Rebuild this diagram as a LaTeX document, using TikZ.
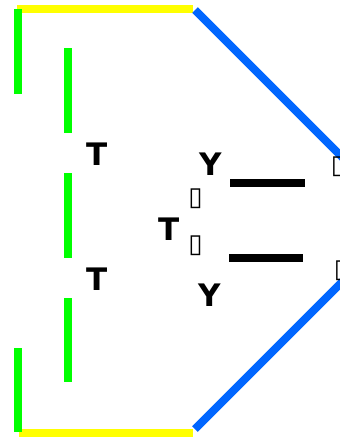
\documentclass[tikz,border=0pt]{standalone}
\usepackage{fontspec}
\setmainfont{DejaVu Sans}
\usepackage{tikz}

\definecolor{wallgreen}{RGB}{0,255,0}
\definecolor{wallyellow}{RGB}{255,255,0}
\definecolor{wallblue}{RGB}{0,102,255}

\begin{document}
\begin{tikzpicture}[x=1pt, y=-1pt,
	lbl/.style={font=\fontsize{31}{36}\selectfont\bfseries, inner sep=0pt},
	box/.style={font=\fontsize{26}{30}\selectfont, inner sep=0pt},
	wall/.style={line width=8pt}]
	\useasboundingbox (0,0) rectangle (340,437);
	\clip (0,0) rectangle (340,437);
	\draw[wall, wallyellow] (17,9) -- (193,9);
	\draw[wall, wallyellow] (19,433) -- (193,433);
	\draw[wall, wallgreen] (18,9) -- (18,94);
	\draw[wall, wallgreen] (18,348) -- (18,432);
	\foreach \ya/\yb in {48/133, 173/258, 298/382} {\draw[wall, wallgreen] (68,\ya) -- (68,\yb);}
	\draw[wall, wallblue] (195,10) -- (345,160);
	\draw[wall, wallblue] (195,429) -- (345,279);
	\draw[wall, black] (230,183) -- (305,183);
	\draw[wall, black] (229,258) -- (303,258);
	\node[lbl] (t1) at (97,154) {T};
	\node[lbl] (t2) at (97,279) {T};
	\node[lbl] (t3) at (169,229) {T};
	\node[lbl] (y1) at (211,164) {Y};
	\node[lbl] (y2) at (210,295) {Y};
	\node[box] (b1) at (195.5,199) {▯};
	\node[box] (b2) at (195.5,245.5) {▯};
	\node[box] (b3) at (338,166.5) {▯};
	\node[box] (b4) at (341,270.5) {▯};
\end{tikzpicture}
\end{document}
